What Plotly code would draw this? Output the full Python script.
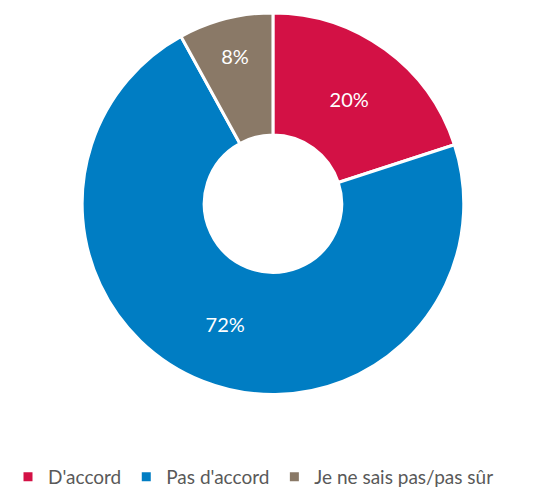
import plotly.graph_objects as go

labels = ["D'accord", "Pas d'accord", "Je ne sais pas/pas sûr"]
values = [20, 72, 8]
colors = ["#D31145", "#007DC3", "#8A7967"]

fig = go.Figure()

fig.add_trace(
    go.Pie(
        labels=labels,
        values=values,
        hole=0.36,
        sort=False,
        direction='clockwise',
        rotation=0,
        marker=dict(colors=colors, line=dict(color='white', width=3)),
        texttemplate='%{value}%',
        textposition='inside',
        insidetextorientation='horizontal',
        textfont=dict(color='white', size=20, family='Lato'),
        domain=dict(x=[0.135, 0.832], y=[0.208, 0.99]),
    )
)

fig.update_layout(
    width=548,
    height=488,
    margin=dict(l=0, r=0, t=0, b=0),
    paper_bgcolor='white',
    showlegend=True,
    legend=dict(
        orientation='h',
        x=0.0, xanchor='left',
        y=0.0, yanchor='bottom',
        font=dict(size=19, color='#595959', family='Lato'),
        itemwidth=30,
        traceorder='normal',
    ),
)

fig.write_html("out.html")
